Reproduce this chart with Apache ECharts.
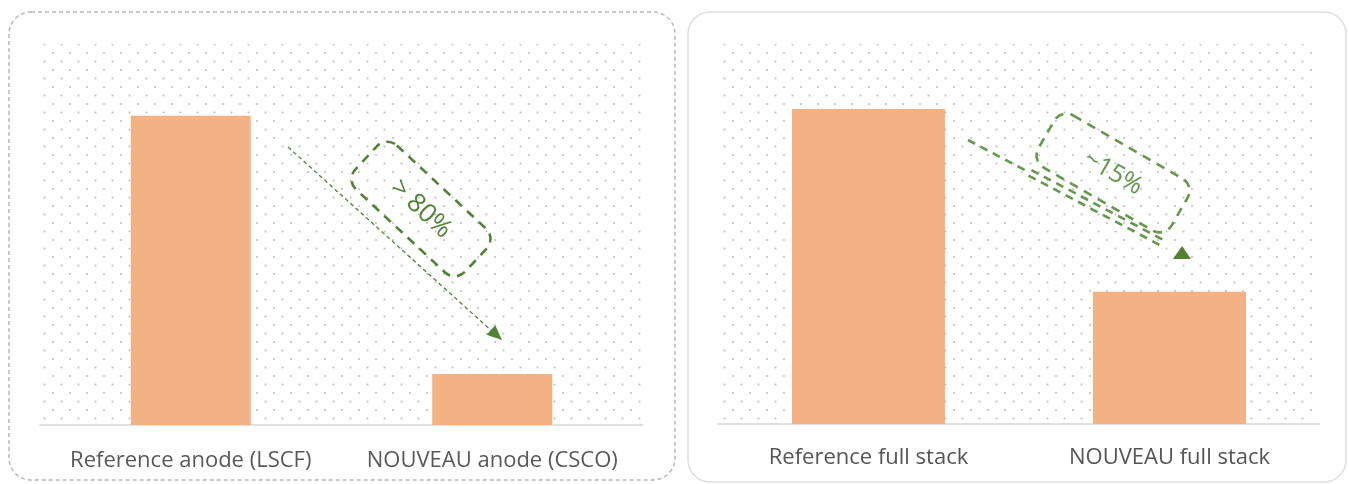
<!DOCTYPE html>
<html>
<head>
<meta charset="utf-8">
<script src="https://cdn.jsdelivr.net/npm/echarts@6/dist/echarts.min.js"></script>
<style>
  html, body { margin: 0; padding: 0; background: #ffffff; }
  #chart { width: 1349px; height: 484px; }
</style>
</head>
<body>
<div id="chart"></div>
<script>
// Anode comparison (left panel) and full-stack comparison (right panel)
const anodeCategories = ['Reference anode (LSCF)', 'NOUVEAU anode (CSCO)'];
const anodeValues = [100, 16.5];
const stackCategories = ['Reference full stack', 'NOUVEAU full stack'];
const stackValues = [100, 42];
const anodeNote = '> 80%';
const stackNote = '~15%';

const ORANGE = '#F4B183';
const GREEN_DARK = '#548235';
const GREEN = '#64984A';

// staggered light-grey dot texture for the plot backgrounds
function dotPattern() {
  const c = document.createElement('canvas');
  c.width = 17; c.height = 17;
  const g = c.getContext('2d');
  g.fillStyle = '#bdbdbd';
  [[2, 2], [10.5, 10.5]].forEach(function (p) {
    g.beginPath(); g.arc(p[0], p[1], 1.0, 0, Math.PI * 2); g.fill();
  });
  return { image: c, repeat: 'repeat' };
}
const dots = dotPattern();

function arrowHead(tip, dir, len, half) {
  const l = Math.hypot(dir[0], dir[1]);
  const d = [dir[0] / l, dir[1] / l];
  const n = [-d[1], d[0]];
  const b = [tip[0] - d[0] * len, tip[1] - d[1] * len];
  return [tip, [b[0] + n[0] * half, b[1] + n[1] * half], [b[0] - n[0] * half, b[1] - n[1] * half]];
}

// a segment shifted sideways by `off` pixels
function shifted(p1, p2, off) {
  const dx = p2[0] - p1[0], dy = p2[1] - p1[1];
  const l = Math.hypot(dx, dy);
  const nx = -dy / l * off, ny = dx / l * off;
  return { x1: p1[0] + nx, y1: p1[1] + ny, x2: p2[0] + nx, y2: p2[1] + ny };
}

const deg = Math.PI / 180;
const dashed = { stroke: GREEN, lineWidth: 2.6, lineDash: [8, 6] };

const chart = echarts.init(document.getElementById('chart'), null, { renderer: 'canvas' });

chart.setOption({
  animation: false,
  grid: [
    { left: 40, top: 54, width: 603, height: 371 },
    { left: 718, top: 46, width: 602, height: 378 }
  ],
  xAxis: [
    {
      type: 'category', gridIndex: 0, data: anodeCategories,
      axisLine: { lineStyle: { color: '#d6d6d6', width: 1.5 } },
      axisTick: { show: false },
      axisLabel: { interval: 0, color: '#595959', fontFamily: 'Open Sans', fontSize: 22, margin: 25 }
    },
    {
      type: 'category', gridIndex: 1, data: stackCategories,
      axisLine: { lineStyle: { color: '#d6d6d6', width: 1.5 } },
      axisTick: { show: false },
      axisLabel: { interval: 0, color: '#555555', fontFamily: 'Open Sans', fontSize: 22, margin: 23 }
    }
  ],
  yAxis: [
    { type: 'value', gridIndex: 0, min: 0, max: 120, show: false },
    { type: 'value', gridIndex: 1, min: 0, max: 120, show: false }
  ],
  series: [
    {
      type: 'bar', xAxisIndex: 0, yAxisIndex: 0, data: anodeValues,
      barWidth: 120, itemStyle: { color: ORANGE }, z: 5
    },
    {
      type: 'bar', xAxisIndex: 1, yAxisIndex: 1, data: stackValues,
      barWidth: 153, itemStyle: { color: ORANGE }, z: 5
    }
  ],
  graphic: [
    // panel frames
    {
      type: 'rect', z: -10, silent: true,
      shape: { x: 9, y: 12, width: 666, height: 468, r: 22 },
      style: { fill: '#ffffff', stroke: '#b8b8b8', lineWidth: 1.5, lineDash: [4, 3] }
    },
    {
      type: 'rect', z: -10, silent: true,
      shape: { x: 688, y: 12, width: 658, height: 470, r: 22 },
      style: { fill: '#ffffff', stroke: '#dedede', lineWidth: 1.5 }
    },
    // dotted plot backgrounds
    {
      type: 'rect', z: -5, silent: true,
      shape: { x: 42, y: 44, width: 600, height: 380 },
      style: { fill: dots }
    },
    {
      type: 'rect', z: -5, silent: true,
      shape: { x: 719, y: 44, width: 598, height: 378 },
      style: { fill: dots }
    },
    // left annotation: thin dashed arrow
    {
      type: 'line', z: 50, silent: true,
      shape: { x1: 288, y1: 147, x2: 494, y2: 333 },
      style: { stroke: GREEN_DARK, lineWidth: 1.3, lineDash: [4, 3] }
    },
    {
      type: 'polygon', z: 50, silent: true,
      shape: { points: arrowHead([502, 340], [214, 193], 15, 6.5) },
      style: { fill: GREEN_DARK }
    },
    {
      type: 'rect', z: 50, silent: true, x: 421, y: 209, rotation: -43 * deg,
      shape: { x: -75, y: -30, width: 150, height: 60, r: 14 },
      style: { fill: 'none', stroke: GREEN_DARK, lineWidth: 2.6, lineDash: [9, 7] }
    },
    {
      type: 'text', z: 51, silent: true, x: 421, y: 209, rotation: -43 * deg,
      style: {
        text: anodeNote, fill: GREEN_DARK, font: '26px "Open Sans"',
        align: 'center', verticalAlign: 'middle'
      }
    },
    // right annotation: dashed arrow that splits into a double line
    {
      type: 'line', z: 50, silent: true,
      shape: { x1: 968, y1: 140, x2: 1030, y2: 172.8 },
      style: dashed
    },
    {
      type: 'line', z: 50, silent: true,
      shape: shifted([1030, 172.8], [1165, 244.3], 3.1),
      style: dashed
    },
    {
      type: 'line', z: 50, silent: true,
      shape: shifted([1030, 172.8], [1165, 244.3], -3.1),
      style: dashed
    },
    {
      type: 'polygon', z: 50, silent: true,
      shape: { points: [[1182, 246], [1173, 259], [1191, 259]] },
      style: { fill: GREEN_DARK }
    },
    {
      type: 'rect', z: 50, silent: true, x: 1113, y: 173, rotation: -30 * deg,
      shape: { x: -77, y: -30, width: 154, height: 60, r: 14 },
      style: { fill: 'none', stroke: GREEN, lineWidth: 2.6, lineDash: [9, 7] }
    },
    {
      type: 'text', z: 51, silent: true, x: 1113, y: 173, rotation: -30 * deg,
      style: {
        text: stackNote, fill: GREEN, font: '25px "Open Sans"',
        align: 'center', verticalAlign: 'middle'
      }
    }
  ]
});
</script>
</body>
</html>
